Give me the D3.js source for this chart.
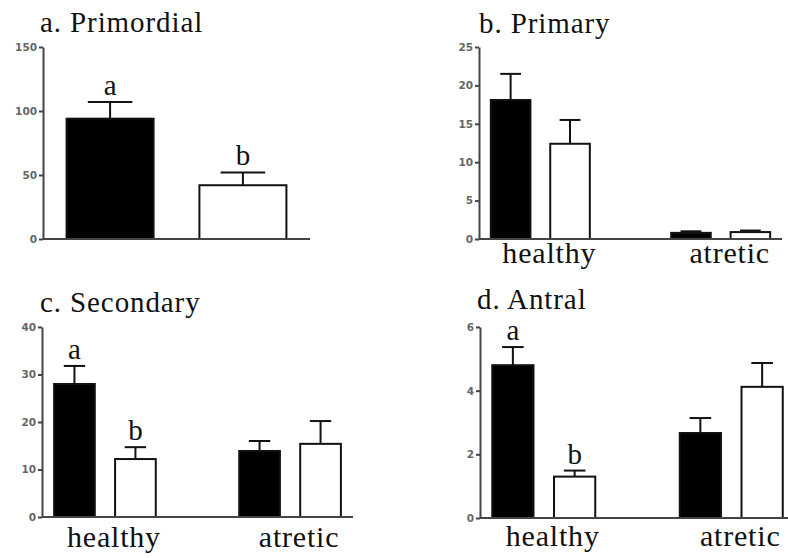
<!DOCTYPE html>
<html>
<head>
<meta charset="utf-8">
<script src="https://d3js.org/d3.v7.min.js"></script>
<style>
  body { margin: 0; background: #fff; }
</style>
</head>
<body>
<div id="chart"></div>
<script>
// ---- data ----
const groups = ["healthy", "atretic"];
const bars = ["filled", "open"];

const primordialMean = [94, 42];
const primordialSem = [13, 10];
const primordialSig = ["a", "b"];

const primaryMean = [[18.1, 12.4], [0.8, 0.9]];
const primarySem = [[3.4, 3.1], [0.2, 0.2]];

const secondaryMean = [[28, 12.2], [13.9, 15.4]];
const secondarySem = [[3.8, 2.5], [2.1, 4.8]];
const secondarySig = [["a", "b"], ["", ""]];

const antralMean = [[4.8, 1.3], [2.67, 4.12]];
const antralSem = [[0.57, 0.19], [0.47, 0.75]];
const antralSig = [["a", "b"], ["", ""]];

const primordialTicks = [0, 50, 100, 150];
const primaryTicks = [0, 5, 10, 15, 20, 25];
const secondaryTicks = [0, 10, 20, 30, 40];
const antralTicks = [0, 2, 4, 6];

const W = 788, H = 558;
const SERIF = "Liberation Serif";
const svg = d3.select("#chart").append("svg")
  .attr("width", W).attr("height", H);

function panel(opt) {
  const g = svg.append("g");
  const y = d3.scaleLinear().domain([0, opt.max]).range([opt.bottom, opt.top]);

  g.append("text")
    .attr("x", opt.titleX).attr("y", opt.titleY)
    .attr("font-family", SERIF).attr("font-size", 29).attr("fill", "#111")
    .attr("letter-spacing", 0.9)
    .text(opt.title);

  // flatten into bar records
  let recs = [];
  if (opt.grouped) {
    const x0 = d3.scaleBand().domain(groups).range([opt.left, opt.right])
      .paddingInner(0.44).paddingOuter(0.06);
    const x1 = d3.scaleBand().domain(bars).range([0, x0.bandwidth()]).paddingInner(0.3);
    groups.forEach((grp, i) => bars.forEach((b, j) => {
      recs.push({ x: x0(grp) + x1(b), w: x1.bandwidth(), kind: b,
        v: opt.mean[i][j], e: opt.sem[i][j], sig: opt.sig ? opt.sig[i][j] : "" });
    }));
    g.selectAll(".cat").data(groups).enter().append("text")
      .attr("class", "cat")
      .attr("x", d => x0(d) + x0.bandwidth() / 2 + 9)
      .attr("y", opt.catY)
      .attr("text-anchor", "middle")
      .attr("font-family", SERIF).attr("font-size", 30).attr("fill", "#111")
      .attr("letter-spacing", 0.8)
      .text(d => d);
  } else {
    const x = d3.scaleBand().domain(bars).range([opt.left, opt.right])
      .paddingInner(0.33).paddingOuter(0.17);
    bars.forEach((b, j) => recs.push({ x: x(b), w: x.bandwidth(), kind: b,
      v: opt.mean[j], e: opt.sem[j], sig: opt.sig[j] }));
  }

  // error bars (upper only)
  const eb = g.selectAll(".err").data(recs).enter().append("g");
  eb.append("line")
    .attr("x1", d => d.x + d.w / 2).attr("x2", d => d.x + d.w / 2)
    .attr("y1", d => y(d.v)).attr("y2", d => y(d.v + d.e))
    .attr("stroke", "#111").attr("stroke-width", 2);
  eb.append("line")
    .attr("x1", d => d.x + d.w / 4).attr("x2", d => d.x + d.w * 3 / 4)
    .attr("y1", d => y(d.v + d.e)).attr("y2", d => y(d.v + d.e))
    .attr("stroke", "#111").attr("stroke-width", 2);

  g.selectAll(".bar").data(recs).enter().append("rect")
    .attr("x", d => d.x + 1).attr("width", d => d.w - 2)
    .attr("y", d => y(d.v)).attr("height", d => y(0) - y(d.v))
    .attr("fill", d => d.kind === "filled" ? "#000" : "#fff")
    .attr("stroke", "#111").attr("stroke-width", 2);

  g.selectAll(".sig").data(recs.filter(d => d.sig)).enter().append("text")
    .attr("class", "sig")
    .attr("x", d => d.x + d.w / 2)
    .attr("y", d => y(d.v + d.e) - 7)
    .attr("text-anchor", "middle")
    .attr("font-family", SERIF).attr("font-size", 29).attr("fill", "#111")
    .text(d => d.sig);

  // axes
  const ax = g.append("g").attr("transform", `translate(${opt.left},0)`)
    .call(d3.axisLeft(y).tickValues(opt.ticks).tickFormat(d3.format("d"))
      .tickSize(4).tickSizeOuter(0).tickPadding(2));
  ax.selectAll("path, line").attr("stroke", "#444").attr("stroke-width", 2);
  ax.attr("font-family", "DejaVu Sans").attr("font-size", 10.5);
  ax.selectAll("text").attr("font-weight", "bold").attr("fill", "#666");
  g.append("line")
    .attr("x1", opt.left).attr("x2", opt.axisEnd)
    .attr("y1", y(0)).attr("y2", y(0))
    .attr("stroke", "#444").attr("stroke-width", 2);
}

panel({ title: "a. Primordial", titleX: 40, titleY: 32, grouped: false,
  left: 43, right: 310, axisEnd: 310, top: 47, bottom: 239, max: 150,
  ticks: primordialTicks, mean: primordialMean, sem: primordialSem, sig: primordialSig });

panel({ title: "b. Primary", titleX: 479, titleY: 33, grouped: true,
  left: 479, right: 782, axisEnd: 782, top: 47, bottom: 239, max: 25, catY: 263,
  ticks: primaryTicks, mean: primaryMean, sem: primarySem });

panel({ title: "c. Secondary", titleX: 40, titleY: 312, grouped: true,
  left: 42, right: 353, axisEnd: 353, top: 327, bottom: 517, max: 40, catY: 547,
  ticks: secondaryTicks, mean: secondaryMean, sem: secondarySem, sig: secondarySig });

panel({ title: "d. Antral", titleX: 477, titleY: 309, grouped: true,
  left: 480, right: 795, axisEnd: 788, top: 327, bottom: 518, max: 6, catY: 546,
  ticks: antralTicks, mean: antralMean, sem: antralSem, sig: antralSig });
</script>
</body>
</html>
